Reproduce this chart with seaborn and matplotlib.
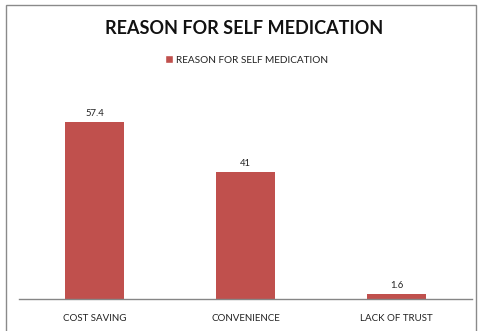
import matplotlib
matplotlib.use("Agg")
import matplotlib.pyplot as plt
import seaborn as sns
import pandas as pd
from matplotlib.patches import Rectangle, Patch

categories = ["COST SAVING", "CONVENIENCE", "LACK OF TRUST"]
values = [57.4, 41, 1.6]
value_labels = ["57.4", "41", "1.6"]
series_name = "REASON FOR SELF MEDICATION"
title = "REASON FOR SELF MEDICATION"

sns.set_theme(style="white")
plt.rcParams['font.family'] = ['Lato', 'DejaVu Sans']

df = pd.DataFrame({"category": categories, "value": values, "series": series_name})

fig = plt.figure(figsize=(4.8, 3.31), dpi=100)
ax = fig.add_axes([19/480, 32/331, 453/480, 216/331])
color = "#C0504D"
sns.barplot(data=df, x="category", y="value", color=color, saturation=1, width=0.39,
            ax=ax, legend=False, linewidth=0)

ax.set_ylim(0, 70)
ax.set_xlim(-0.5, 2.5)
ax.set_yticks([])
ax.set_xlabel("")
ax.set_ylabel("")
for s in ["top", "right", "left"]:
    ax.spines[s].set_visible(False)
ax.spines["bottom"].set_color("#868686")
ax.spines["bottom"].set_linewidth(1)
ax.tick_params(axis="x", length=0, pad=11, labelsize=7, labelcolor="#222222")

ax.bar_label(ax.containers[0], labels=value_labels, padding=3, fontsize=6.8, color="#222222")

fig.text(244.5/480, 1 - 28/331, title, ha="center", va="center", fontsize=13, fontweight="bold", color="#111111")
fig.legend(handles=[Patch(facecolor=color, label=series_name)], loc="center",
           bbox_to_anchor=(247/480, 1 - 60/331), frameon=False, fontsize=7.2,
           handlelength=0.8, handleheight=0.8, handletextpad=0.3, labelcolor="#222222")

fig.patches.append(Rectangle((6/480, -0.1), 470/480, 1.1 - 5/331, transform=fig.transFigure,
                             fill=False, edgecolor="#8a8a8a", linewidth=1))

fig.savefig("out.png", dpi=100)
